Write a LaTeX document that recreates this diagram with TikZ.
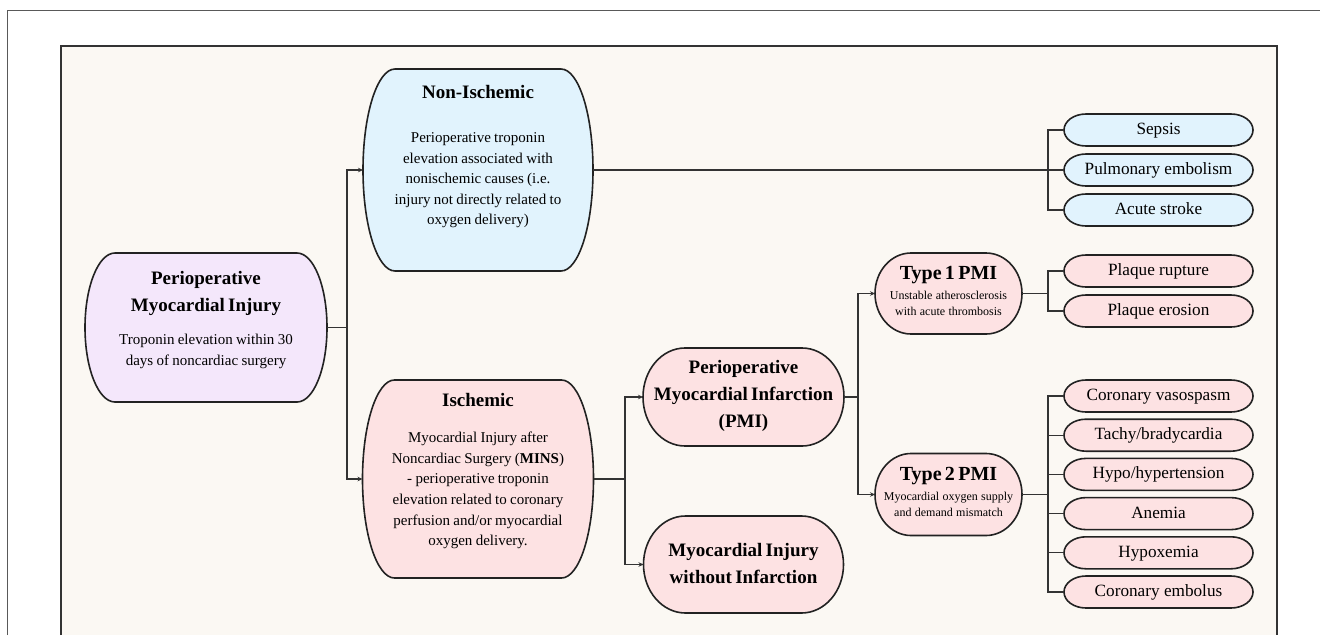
\documentclass[tikz,border=0pt]{standalone}
\usepackage{fontspec}
\setmainfont{Liberation Serif}
\usetikzlibrary{arrows.meta,calc}
\definecolor{cream}{HTML}{FBF8F3}
\definecolor{lav}{HTML}{F4E7FB}
\definecolor{skyb}{HTML}{E1F3FD}
\definecolor{rosy}{HTML}{FDE2E3}
\definecolor{ink}{HTML}{222222}
\definecolor{wire}{HTML}{333333}
\newcommand\mytitle{\fontsize{19}{27}\selectfont\bfseries}
\newcommand\mybody{\fontsize{15}{20.6}\selectfont\mdseries}
\newcommand\mysmall{\fontsize{12}{16}\selectfont\mdseries}
\newcommand\mytype{\fontsize{20}{24}\selectfont\bfseries}
\newcommand\mypill{\fontsize{17.2}{20}\selectfont}
\pgfdeclarelayer{bg}
\pgfdeclarelayer{mid}
\pgfsetlayers{bg,mid,main}
\newcommand\shapeit[3]{%
  \begin{pgfonlayer}{mid}
  \draw[boxline,fill=#3] let \p1=(#1.north west), \p2=(#1.south east), \n1={(\y1-\y2)/2} in
    (\x1+#2pt,\y1) -- (\x2-#2pt,\y1)
    arc[start angle=90,end angle=-90,x radius=#2pt,y radius=\n1]
    -- (\x1+#2pt,\y2)
    arc[start angle=270,end angle=90,x radius=#2pt,y radius=\n1] -- cycle;
  \end{pgfonlayer}}
\tikzset{
  boxline/.style={draw=ink, line width=1.6pt},
  conn/.style={draw=wire, line width=1.2pt},
  arr/.style={conn, -{Stealth[length=5pt,width=4.5pt]}},
  holder/.style={rectangle, inner sep=0pt, outer sep=0pt},
  txt/.style={align=center, inner sep=0pt},
  pill/.style={holder, minimum width=189pt, minimum height=32pt, font=\mypill, text height=12pt, text depth=3.2pt},
}
\begin{document}
\begin{tikzpicture}[x=1pt,y=1pt]
\useasboundingbox (0,0) rectangle (1320,-635);
\begin{pgfonlayer}{bg}
  \fill[white] (0,0) rectangle (1320,-635);
  \draw[draw=black!65, line width=1.3pt] (7.5,-635) -- (7.5,-10.5) -- (1320,-10.5);
  \fill[cream] (61,-46) rectangle (1277,-635);
  \draw[draw=black!80, line width=2pt] (61,-635) -- (61,-46) -- (1277,-46) -- (1277,-635);
\end{pgfonlayer}

% main boxes
\node[holder, minimum width=242pt, minimum height=149pt] (root) at (206,-327.5) {};
\node[txt, text width=240pt] (root-t) at (206,-320) {\mytitle Perioperative\\Myocardial Injury\par\vspace{13pt}\mybody Troponin elevation within 30\\days of noncardiac surgery\par};
\shapeit{root}{30}{lav}

\node[holder, minimum width=230pt, minimum height=202pt] (nonisch) at (478,-170) {};
\node[txt, text width=228pt] (nonisch-t) at (478,-157) {\mytitle Non-Ischemic\par\vspace{23pt}\mybody Perioperative troponin\\elevation associated with\\nonischemic causes (i.e.\\injury not directly related to\\oxygen delivery)\par};
\shapeit{nonisch}{32}{skyb}

\node[holder, minimum width=231pt, minimum height=198pt] (isch) at (478,-479) {};
\node[txt, text width=228pt] (isch-t) at (478,-471) {\mytitle Ischemic\par\vspace{16pt}\mybody Myocardial Injury after\\Noncardiac Surgery (\textbf{MINS})\\- perioperative troponin\\elevation related to coronary\\perfusion and/or myocardial\\oxygen delivery.\par};
\shapeit{isch}{32}{rosy}

\node[holder, minimum width=201pt, minimum height=98pt] (pmi) at (743.5,-397) {};
\node[txt, text width=200pt] (pmi-t) at (743.5,-396) {\mytitle Perioperative\\Myocardial Infarction\\(PMI)\par};
\shapeit{pmi}{42}{rosy}

\node[holder, minimum width=200pt, minimum height=97pt] (miwoi) at (743.5,-564.5) {};
\node[txt, text width=200pt] (miwoi-t) at (743.5,-564) {\mytitle Myocardial Injury\\without Infarction\par};
\shapeit{miwoi}{42}{rosy}

\node[holder, minimum width=147pt, minimum height=81pt] (t1) at (948.5,-293.5) {};
\node[txt, text width=146pt] (t1-t) at (948.5,-291) {\mytype Type 1 PMI\par\vspace{4pt}\mysmall Unstable atherosclerosis\\with acute thrombosis\par};
\shapeit{t1}{36}{rosy}

\node[holder, minimum width=147pt, minimum height=82pt] (t2) at (948.5,-494.5) {};
\node[txt, text width=146pt] (t2-t) at (948.5,-492) {\mytype Type 2 PMI\par\vspace{4pt}\mysmall Myocardial oxygen supply\\and demand mismatch\par};
\shapeit{t2}{36}{rosy}

% pills
\node[pill] (sepsis) at (1158.5,-130) {Sepsis};
\node[pill] (pe) at (1158.5,-170) {Pulmonary embolism};
\node[pill] (stroke) at (1158.5,-210) {Acute stroke};
\foreach \q in {sepsis,pe,stroke} {\shapeit{\q}{22}{skyb}}

\node[pill] (rupt) at (1158.5,-271) {Plaque rupture};
\node[pill] (eros) at (1158.5,-311) {Plaque erosion};
\node[pill] (vaso) at (1158.5,-396) {Coronary vasospasm};
\node[pill] (tachy) at (1158.5,-435.2) {Tachy/bradycardia};
\node[pill] (hypo) at (1158.5,-474.4) {Hypo/hypertension};
\node[pill] (anem) at (1158.5,-513.6) {Anemia};
\node[pill] (hypox) at (1158.5,-552.8) {Hypoxemia};
\node[pill] (emb) at (1158.5,-592) {Coronary embolus};
\foreach \q in {rupt,eros,vaso,tachy,hypo,anem,hypox,emb} {\shapeit{\q}{22}{rosy}}

% connectors
\coordinate (j1) at (347,-327.5);
\draw[conn] (root.east) -- (j1);
\draw[arr] (j1) |- (nonisch.west);
\draw[arr] (j1) |- (isch.west);

\coordinate (j2) at (625,-479);
\draw[conn] (isch.east) -- (j2);
\draw[arr] (j2) |- (pmi.west);
\draw[arr] (j2) |- (miwoi.west);

\coordinate (j3) at (858,-397);
\draw[conn] (pmi.east) -- (j3);
\draw[arr] (j3) |- (t1.west);
\draw[arr] (j3) |- (t2.west);

\coordinate (j4) at (1048,-170);
\draw[conn] (nonisch.east) -- (pe.west);
\draw[conn] (sepsis.west) -- (sepsis.west -| j4) -- (stroke.west -| j4) -- (stroke.west);

\coordinate (j5) at (1048,-293.5);
\draw[conn] (t1.east) -- (j5);
\draw[conn] (rupt.west) -- (rupt.west -| j5) -- (eros.west -| j5) -- (eros.west);

\coordinate (j6) at (1048,-494.5);
\draw[conn] (t2.east) -- (j6);
\draw[conn] (vaso.west) -- (vaso.west -| j6) -- (emb.west -| j6) -- (emb.west);
\foreach \q in {tachy,hypo,anem,hypox} {\draw[conn] (\q.west -| j6) -- (\q.west);}
\end{tikzpicture}
\end{document}
